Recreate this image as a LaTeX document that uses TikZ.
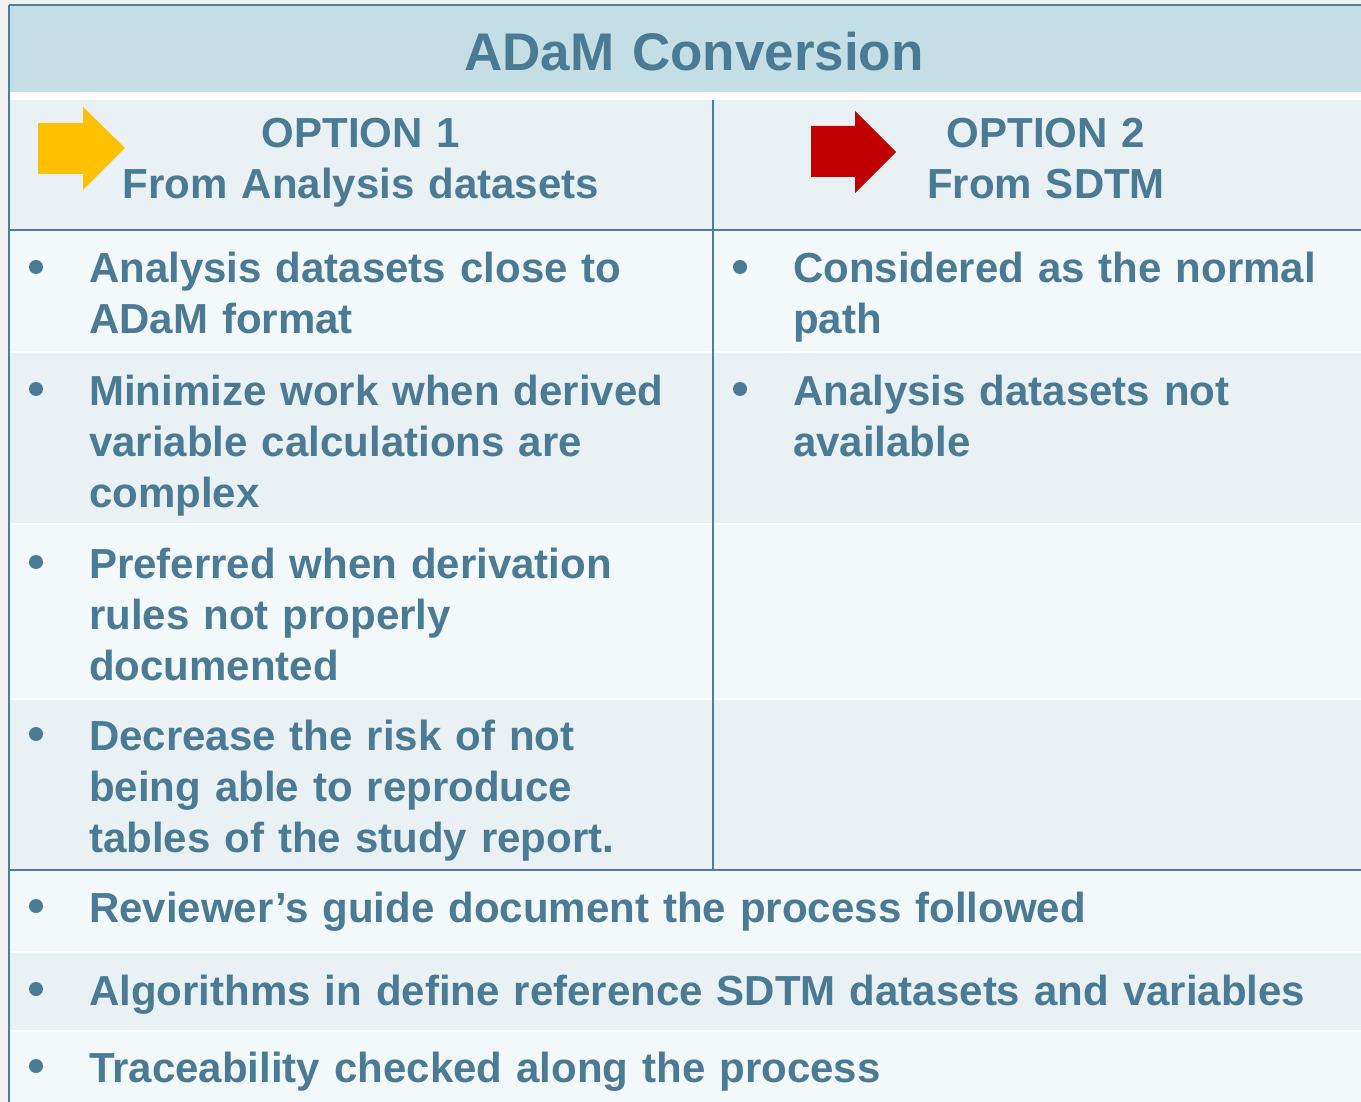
\documentclass[tikz,border=0pt]{standalone}
\usepackage{fontspec}
\setmainfont{Liberation Sans}
\usepackage{tikz}
\definecolor{slate}{HTML}{4B7A94}
\definecolor{rulecol}{HTML}{4E7E99}
\definecolor{titlefill}{HTML}{C3DFE5}
\definecolor{darkrow}{HTML}{E9F1F4}
\definecolor{lightrow}{HTML}{F3F8FA}
\definecolor{backgr}{HTML}{F0F0F0}
\definecolor{optone}{HTML}{FFC000}
\definecolor{opttwo}{HTML}{C00000}
\tikzset{
	body/.style={anchor=base west, text=slate, font=\bfseries\fontsize{42}{51}\selectfont, align=left, text width=1300pt, inner sep=0pt},
	head/.style={anchor=base, text=slate, font=\bfseries\fontsize{42}{51}\selectfont, align=center, text width=700pt, inner sep=0pt},
	dot/.style={circle, fill=slate, minimum size=14pt, inner sep=0pt},
	rule/.style={rulecol, line width=2.5pt}
}
\newcommand{\bitem}[4]{
	\node[dot] (#1dot) at (#2-53, #3-16) {};
	\node[body] (#1) at (#2, #3) {#4};
}

\begin{document}
\begin{tikzpicture}[x=1pt, y=-1pt]
	\useasboundingbox (0, 0) rectangle (1361, 1102);
	\fill[backgr] (0, 0) rectangle (1361, 1102);
	\fill[white] (9, 5) rectangle (1361, 1102);
	\fill[titlefill] (9, 5) rectangle (1361, 92);
	\foreach \ya/\yb/\c in {100/230/darkrow, 231/351/lightrow, 353/523/darkrow, 525/698/lightrow, 700/870/darkrow, 871/951/lightrow, 953/1030/darkrow, 1032/1102/lightrow}
		\fill[\c] (9, \ya) rectangle (1361, \yb);
	\draw[rule] (9, 5)--(1361, 5);
	\draw[rule] (9, 5)--(9, 1102);
	\draw[rule] (9, 230)--(1361, 230);
	\draw[rule] (713, 100)--(713, 870);
	\draw[rule] (9, 870)--(1361, 870);
	\node[head, font=\bfseries\fontsize{53}{60}\selectfont] (title) at (694, 71) {ADaM Conversion};
	\fill[optone] (38, 123)--(83, 123)--(83, 107)--(125, 148)--(83, 190)--(83, 174)--(38, 174)--cycle;
	\fill[opttwo] (811, 126)--(855, 126)--(855, 111)--(896, 152)--(855, 193)--(855, 177)--(811, 177)--cycle;
	\node[head] (opt1) at (361, 148) {OPTION 1\\From Analysis datasets};
	\node[head] (opt2) at (1046, 148) {OPTION 2\\From SDTM};
	\bitem{a1}{89}{283}{Analysis datasets close to\\ADaM format}
	\bitem{a2}{89}{405}{Minimize work when derived\\variable calculations are\\complex}
	\bitem{a3}{89}{578}{Preferred when derivation\\rules not properly\\documented}
	\bitem{a4}{89}{750}{Decrease the risk of not\\being able to reproduce\\tables of the study report.}
	\bitem{b1}{793}{283}{Considered as the normal\\path}
	\bitem{b2}{793}{405}{Analysis datasets not\\available}
	\bitem{c1}{89}{922}{Reviewer’s guide document the process followed}
	\bitem{c2}{89}{1005}{Algorithms in define reference SDTM datasets and variables}
	\bitem{c3}{89}{1082}{Traceability checked along the process}
\end{tikzpicture}
\end{document}
